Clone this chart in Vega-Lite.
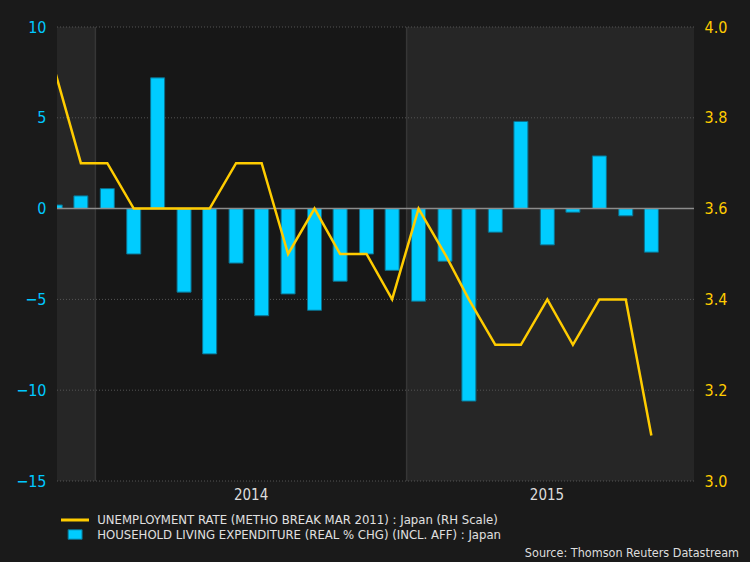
{
  "$schema": "https://vega.github.io/schema/vega-lite/v6.json",
  "autosize": {"type": "none"},
  "width": 637,
  "height": 454,
  "padding": {"left": 57, "top": 27, "right": 56, "bottom": 81},
  "background": "#1a1a1a",
  "config": {
    "view": {"stroke": null},
    "font": "DejaVu Sans Condensed, sans-serif"
  },
  "title": {
    "text": "Source: Thomson Reuters Datastream",
    "orient": "bottom",
    "anchor": "end",
    "frame": "group",
    "color": "#dddddd",
    "fontSize": 12.5,
    "fontWeight": "normal",
    "font": "DejaVu Sans Condensed, sans-serif",
    "offset": 5,
    "dx": 45
  },
  "datasets": {
    "main": [
      {"date": "2013-11-15", "spend": 0.2, "unemp": 3.9},
      {"date": "2013-12-15", "spend": 0.7, "unemp": 3.7},
      {"date": "2014-01-15", "spend": 1.1, "unemp": 3.7},
      {"date": "2014-02-15", "spend": -2.5, "unemp": 3.6},
      {"date": "2014-03-15", "spend": 7.2, "unemp": 3.6},
      {"date": "2014-04-15", "spend": -4.6, "unemp": 3.6},
      {"date": "2014-05-15", "spend": -8.0, "unemp": 3.6},
      {"date": "2014-06-15", "spend": -3.0, "unemp": 3.7},
      {"date": "2014-07-15", "spend": -5.9, "unemp": 3.7},
      {"date": "2014-08-15", "spend": -4.7, "unemp": 3.5},
      {"date": "2014-09-15", "spend": -5.6, "unemp": 3.6},
      {"date": "2014-10-15", "spend": -4.0, "unemp": 3.5},
      {"date": "2014-11-15", "spend": -2.5, "unemp": 3.5},
      {"date": "2014-12-15", "spend": -3.4, "unemp": 3.4},
      {"date": "2015-01-15", "spend": -5.1, "unemp": 3.6},
      {"date": "2015-02-15", "spend": -2.9, "unemp": 3.5},
      {"date": "2015-03-15", "spend": -10.6, "unemp": 3.4},
      {"date": "2015-04-15", "spend": -1.3, "unemp": 3.3},
      {"date": "2015-05-15", "spend": 4.8, "unemp": 3.3},
      {"date": "2015-06-15", "spend": -2.0, "unemp": 3.4},
      {"date": "2015-07-15", "spend": -0.2, "unemp": 3.3},
      {"date": "2015-08-15", "spend": 2.9, "unemp": 3.4},
      {"date": "2015-09-15", "spend": -0.4, "unemp": 3.4},
      {"date": "2015-10-15", "spend": -2.4, "unemp": 3.1}
    ],
    "bands": [
      {"date": "2013-11-01", "end": "2014-01-01", "shade": "light"},
      {"date": "2014-01-01", "end": "2015-01-01", "shade": "dark"},
      {"date": "2015-01-01", "end": "2016-01-01", "shade": "light"}
    ],
    "years": [
      {"date": "2014-01-01"},
      {"date": "2015-01-01"}
    ],
    "grid": [
      {"v": -15}, {"v": -10}, {"v": -5}, {"v": 5}, {"v": 10}
    ],
    "zero": [
      {"v": 0}
    ]
  },
  "encoding": {
    "x": {
      "field": "date",
      "type": "temporal",
      "scale": {
        "type": "utc",
        "nice": false,
        "padding": 0,
        "domain": [
          {"year": 2013, "month": 11, "date": 17, "utc": true},
          {"year": 2015, "month": 12, "date": 4, "utc": true}
        ]
      },
      "axis": {
        "title": null,
        "values": [
          {"year": 2014, "month": 7, "date": 2, "utc": true},
          {"year": 2015, "month": 6, "date": 14, "utc": true}
        ],
        "labelExpr": "utcFormat(datum.value, '%Y')",
        "labelColor": "#dddddd",
        "labelFontSize": 15,
        "labelPadding": 6,
        "ticks": false,
        "domain": false,
        "grid": false
      }
    }
  },
  "layer": [
    {
      "data": {"name": "bands"},
      "mark": {"type": "rect", "clip": true},
      "encoding": {
        "x2": {"field": "end"},
        "fill": {
          "field": "shade",
          "type": "nominal",
          "scale": {"domain": ["light", "dark"], "range": ["#262626", "#171717"]},
          "legend": null
        }
      }
    },
    {
      "data": {"name": "years"},
      "mark": {"type": "rule", "color": "#363636", "strokeWidth": 1.5},
      "encoding": {}
    },
    {
      "data": {"name": "grid"},
      "mark": {"type": "rule", "color": "#555555", "strokeWidth": 1, "strokeDash": [1, 2]},
      "encoding": {
        "x": {"value": 0},
        "x2": {"value": 637},
        "y": {"field": "v", "type": "quantitative", "scale": {"domain": [-15, 10], "nice": false, "zero": false}, "axis": null}
      }
    },
    {
      "data": {"name": "main"},
      "mark": {"type": "bar", "width": 14, "clip": true, "stroke": "#0b6f8c", "strokeWidth": 1},
      "encoding": {
        "y": {
          "field": "spend",
          "type": "quantitative",
          "scale": {"domain": [-15, 10], "nice": false, "zero": false},
          "axis": {
            "orient": "left",
            "title": null,
            "values": [-15, -10, -5, 0, 5, 10],
            "labelColor": "#00c8ff",
            "labelFontSize": 16,
            "labelPadding": 11,
            "ticks": false,
            "domain": false,
            "grid": false
          }
        },
        "fill": {
          "datum": "HOUSEHOLD LIVING EXPENDITURE (REAL % CHG) (INCL. AFF) : Japan",
          "type": "nominal",
          "scale": {"range": ["#00ccff"]},
          "legend": {
            "title": null,
            "orient": "none",
            "legendX": 10.6,
            "legendY": 500,
            "padding": 0,
            "symbolType": "M-1,-0.68H1V0.68H-1Z",
            "symbolSize": 196,
            "symbolStrokeColor": "#0b6f8c",
            "symbolStrokeWidth": 1,
            "symbolFillColor": "#00ccff",
            "labelOffset": 14.6,
            "labelColor": "#e0e0e0",
            "labelFontSize": 13,
            "labelLimit": 600
          }
        }
      }
    },
    {
      "data": {"name": "zero"},
      "mark": {"type": "rule", "color": "#8c8c8c", "strokeWidth": 1.5},
      "encoding": {
        "x": {"value": 0},
        "x2": {"value": 637},
        "y": {"field": "v", "type": "quantitative", "scale": {"domain": [-15, 10], "nice": false, "zero": false}, "axis": null}
      }
    },
    {
      "data": {"name": "main"},
      "mark": {"type": "line", "strokeWidth": 2.5, "clip": true},
      "encoding": {
        "y": {
          "field": "unemp",
          "type": "quantitative",
          "scale": {"domain": [3.0, 4.0], "nice": false, "zero": false},
          "axis": {
            "orient": "right",
            "title": null,
            "values": [3.0, 3.2, 3.4, 3.6, 3.8, 4.0],
            "format": ".1f",
            "labelColor": "#ffcc00",
            "labelFontSize": 16,
            "labelPadding": 10,
            "ticks": false,
            "domain": false,
            "grid": false
          }
        },
        "stroke": {
          "datum": "UNEMPLOYMENT RATE (METHO BREAK MAR 2011) : Japan (RH Scale)",
          "type": "nominal",
          "scale": {"range": ["#ffcc00"]},
          "legend": {
            "title": null,
            "orient": "none",
            "legendX": 2.5,
            "legendY": 477.5,
            "padding": 0,
            "symbolType": "stroke",
            "symbolSize": 784,
            "symbolStrokeWidth": 3,
            "labelOffset": 6.8,
            "labelColor": "#e0e0e0",
            "labelFontSize": 13,
            "labelLimit": 600
          }
        }
      }
    }
  ],
  "resolve": {"scale": {"y": "independent", "fill": "independent"}}
}
